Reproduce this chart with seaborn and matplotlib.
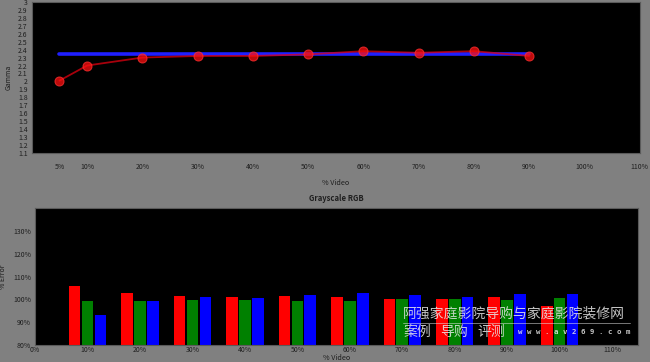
import matplotlib
matplotlib.use("Agg")
import matplotlib.pyplot as plt
import seaborn as sns
import pandas as pd

# gamma data
video_pts = [5, 10, 20, 30, 40, 50, 60, 70, 80, 90]
gamma_vals = [2.01, 2.20, 2.30, 2.32, 2.32, 2.34, 2.38, 2.36, 2.38, 2.32]
gamma_target = [2.35] * len(video_pts)

# grayscale rgb data (% error)
gs_video = [10, 20, 30, 40, 50, 60, 70, 80, 90, 100]
red_vals = [105.8, 102.7, 101.4, 101.2, 101.6, 101.0, 100.3, 100.0, 101.0, 97.0]
green_vals = [99.3, 99.4, 99.8, 99.7, 99.5, 99.5, 100.0, 100.1, 99.7, 100.8]
blue_vals = [93.0, 99.5, 101.1, 100.8, 101.7, 102.9, 101.7, 101.2, 102.4, 102.2]

top_ticks = [5, 10, 20, 30, 40, 50, 60, 70, 80, 90, 100, 110]
bot_ticks = [0, 10, 20, 30, 40, 50, 60, 70, 80, 90, 100, 110]

sns.set_style("dark")
plt.rcParams['font.family'] = ['Noto Sans CJK SC', 'DejaVu Sans']
bg = "#808080"
txt = "#1e1e1e"

fig = plt.figure(figsize=(6.5, 3.62), dpi=100, facecolor=bg)

# ---- gamma panel
ax1 = fig.add_axes([0.049, 0.577, 0.935, 0.418])
ax1.set_facecolor("black")
df_g = pd.DataFrame({"video": video_pts, "gamma": gamma_vals, "target": gamma_target})
sns.lineplot(data=df_g, x="video", y="target", color="#1f1fff", lw=2.6, ax=ax1)
sns.lineplot(data=df_g, x="video", y="gamma", color="#e00010", lw=1.3, alpha=0.75,
             marker="o", markersize=6.5, markerfacecolor="#ff1010",
             markeredgecolor="#ff3030", ax=ax1)
ax1.set_xlim(0, 110)
ax1.set_ylim(1.1, 3.0)
ax1.set_yticks([round(1.1 + 0.1 * i, 1) for i in range(20)])
ax1.set_yticklabels([f"{1.1 + 0.1 * i:g}" for i in range(20)])
ax1.set_xticks(top_ticks)
ax1.set_xticklabels([f"{t}%" for t in top_ticks])
ax1.tick_params(axis="x", labelsize=5.0, colors=txt, pad=7, length=0)
ax1.tick_params(axis="y", labelsize=5.0, colors=txt, pad=3, length=0)
ax1.set_xlabel("% Video", fontsize=5.2, color=txt, labelpad=6)
ax1.set_ylabel("Gamma", fontsize=5, color=txt, labelpad=4)
ax1.grid(False)
for s in ax1.spines.values():
    s.set_color("#5a5a5a")
    s.set_linewidth(0.8)

# ---- grayscale panel
ax2 = fig.add_axes([0.054, 0.047, 0.928, 0.378])
ax2.set_facecolor("black")
df_b = pd.DataFrame({
    "video": gs_video * 3,
    "value": red_vals + green_vals + blue_vals,
    "channel": ["R"] * 10 + ["G"] * 10 + ["B"] * 10,
})
sns.barplot(data=df_b, x="video", y="value", hue="channel", native_scale=True,
            palette=["#ff0000", "#008000", "#0000ff"], width=0.74, gap=0.1,
            legend=False, ax=ax2, saturation=1, linewidth=0, edgecolor="none")
ax2.set_xlim(0, 115)
ax2.set_ylim(80, 140)
ax2.set_yticks([80, 90, 100, 110, 120, 130])
ax2.set_yticklabels([f"{t}%" for t in [80, 90, 100, 110, 120, 130]])
ax2.set_xticks(bot_ticks)
ax2.set_xticklabels([f"{t}%" for t in bot_ticks])
ax2.tick_params(axis="x", labelsize=5.0, colors=txt, pad=1, length=0)
ax2.tick_params(axis="y", labelsize=5.0, colors=txt, pad=3, length=0)
ax2.set_xlabel("% Video", fontsize=5.2, color=txt, labelpad=0)
ax2.set_ylabel("% Error", fontsize=5, color=txt, labelpad=4)
ax2.set_title("Grayscale RGB", fontsize=5.5, fontweight="bold", color=txt, pad=5)
ax2.grid(False)
for s in ax2.spines.values():
    s.set_color("#5a5a5a")
    s.set_linewidth(0.8)

# watermark
wm = dict(color="#e8e8e8", alpha=0.85, fontsize=10, va="center", ha="left")
fig.text(403 / 650, 1 - 314 / 362, "阿强家庭影院导购与家庭影院装修网", **wm)
fig.text(403 / 650, 1 - 332 / 362, "案例", **wm)
fig.text(440 / 650, 1 - 332 / 362, "导购", **wm)
fig.text(477 / 650, 1 - 332 / 362, "评测", **wm)
fig.text(518 / 650, 1 - 332 / 362, "w w w . a v 2 6 9 . c o m",
         color="#e8e8e8", alpha=0.85, fontsize=5.3, va="center", ha="left",
         family=["DejaVu Sans Mono"], fontweight="bold")
fig.add_artist(plt.Line2D([403 / 650, 630 / 650], [1 - 323 / 362, 1 - 323 / 362],
                          color="#e8e8e8", alpha=0.6, lw=0.6))

fig.savefig("out.png", dpi=100, facecolor=bg)
